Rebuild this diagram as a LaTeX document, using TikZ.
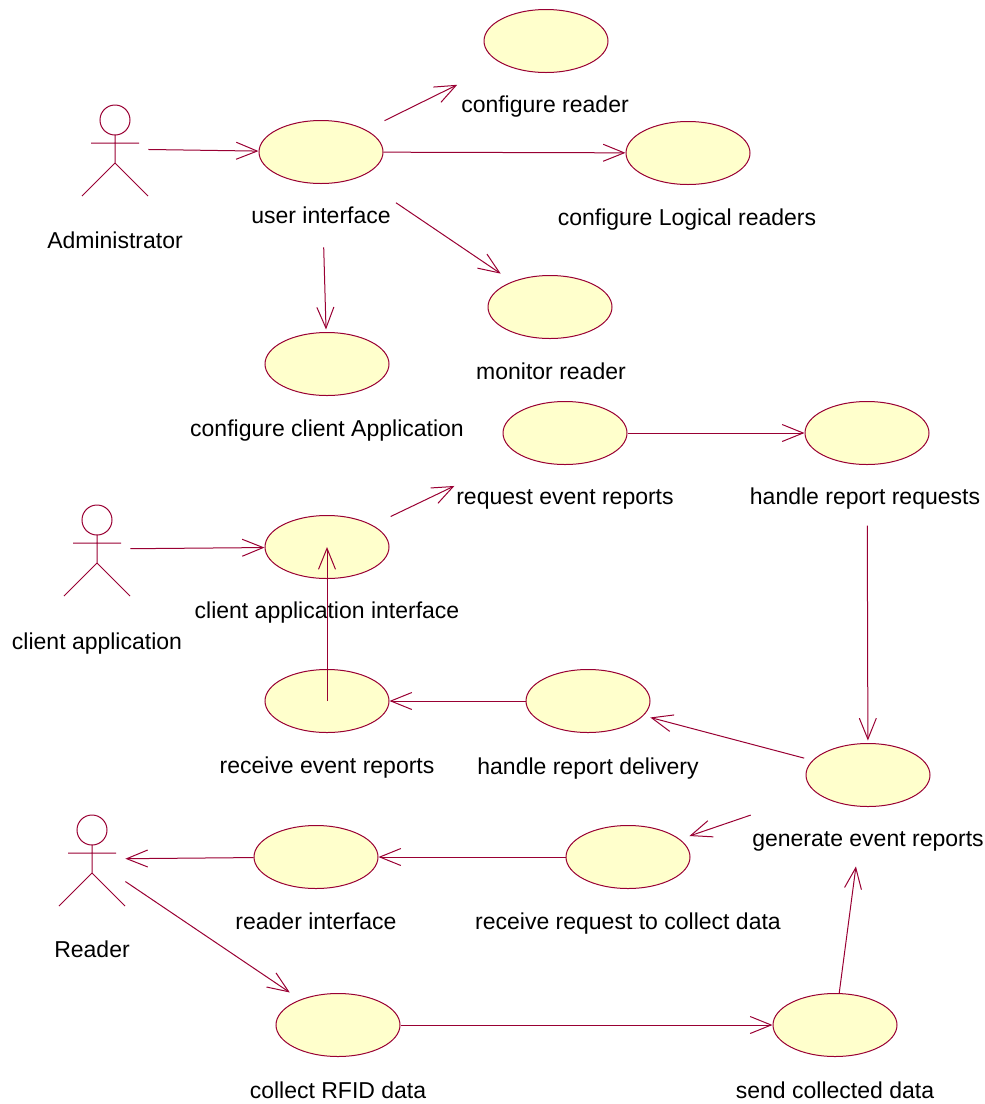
\documentclass[tikz,border=0pt]{standalone}
\usepackage{fontspec}
\setmainfont{Liberation Sans}
\usetikzlibrary{shapes.geometric,arrows.meta,positioning}
\definecolor{umlred}{RGB}{153,0,51}
\definecolor{ucfill}{RGB}{255,255,204}

\begin{document}
\begin{tikzpicture}[x=0.5pt, y=-0.5pt, font=\fontsize{11.5}{13}\selectfont]
        % Setup the styles for use cases, actors and texts
        \tikzset{uc style/.style={ellipse,
                                  draw=umlred,
                                  fill=ucfill,
                                  line width=0.5pt,
                                  inner sep=0pt,
                                  minimum width=62pt,
                                  minimum height=31.5pt},
                 actor style/.style={rectangle,
                                     inner sep=0pt,
                                     minimum width=33pt,
                                     minimum height=50pt},
                 txt style/.style={anchor=base, inner sep=0pt}}
        \useasboundingbox (0,0) rectangle (985,1104);

        % Draw the actors
        \node[actor style] at (115, 149) (admin)  {};
        \node[actor style] at (97, 549)  (capp)   {};
        \node[actor style] at (92, 859)  (reader) {};
        \foreach \a in {admin, capp, reader} {
            \draw[umlred, line width=0.5pt]
                ([shift={(0,-29)}]\a.center) circle[radius=7.5pt]
                ([shift={(-24,-6)}]\a.center) -- ([shift={(24,-6)}]\a.center)
                ([shift={(0,-14)}]\a.center) -- ([shift={(0,14)}]\a.center)
                ([shift={(-33,47)}]\a.center) -- ([shift={(0,14)}]\a.center)
                -- ([shift={(33,47)}]\a.center);
        }
        \node[txt style] at (115, 248) (adminlbl)  {Administrator};
        \node[txt style] at (97, 649)  (capplbl)   {client application};
        \node[txt style] at (92, 957)  (readerlbl) {Reader};

        % Draw the use cases
        \node[uc style] at (546, 41)   (cfgreader)   {};
        \node[uc style] at (321, 152)  (userif)      {};
        \node[uc style] at (688, 153)  (cfglogical)  {};
        \node[uc style] at (550, 307)  (monreader)   {};
        \node[uc style] at (327, 364)  (cfgclient)   {};
        \node[uc style] at (565, 433)  (reqreports)  {};
        \node[uc style] at (867, 433)  (handlereq)   {};
        \node[uc style] at (327, 547)  (clientif)    {};
        \node[uc style] at (327, 701)  (recvreports) {};
        \node[uc style] at (588, 701)  (handledeliv) {};
        \node[uc style] at (868, 775)  (genreports)  {};
        \node[uc style] at (628, 857)  (recvcollect) {};
        \node[uc style] at (316, 857)  (readerif)    {};
        \node[uc style] at (338, 1025) (collectrfid) {};
        \node[uc style] at (835, 1025) (sendcoll)    {};

        % Names of the use cases
        \node[txt style] at (545, 112)  (cfgreaderlbl)   {configure reader};
        \node[txt style] at (321, 223)  (useriflbl)      {user interface};
        \node[txt style] at (687, 225)  (cfglogicallbl)  {configure Logical readers};
        \node[txt style] at (551, 379)  (monreaderlbl)   {monitor reader};
        \node[txt style] at (327, 436)  (cfgclientlbl)   {configure client Application};
        \node[txt style] at (565, 504)  (reqreportslbl)  {request event reports};
        \node[txt style] at (865, 504)  (handlereqlbl)   {handle report requests};
        \node[txt style] at (327, 618)  (clientiflbl)    {client application interface};
        \node[txt style] at (327, 773)  (recvreportslbl) {receive event reports};
        \node[txt style] at (588, 774)  (handledelivlbl) {handle report delivery};
        \node[txt style] at (868, 846)  (genreportslbl)  {generate event reports};
        \node[txt style] at (628, 929)  (recvcollectlbl) {receive request to collect data};
        \node[txt style] at (316, 929)  (readeriflbl)    {reader interface};
        \node[txt style] at (338, 1098) (collectrfidlbl) {collect RFID data};
        \node[txt style] at (835, 1098) (sendcolllbl)    {send collected data};

        % Connect them with arrows
        \path[every edge/.append style={->,
                                        >={Straight Barb[length=10.5pt, width=8.5pt]},
                                        line width=0.5pt,
                                        draw=umlred}]
            (admin)       edge                                       (userif)
            (userif)      edge[shorten <=10.3pt, shorten >=24.4pt]   (cfgreader)
            (userif)      edge                                       (cfglogical)
            (userif)      edge[shorten <=22.5pt, shorten >=7pt]      (monreader)
            (userif)      edge[shorten <=31.75pt, shorten >=1.25pt]  (cfgclient)
            (capp)        edge                                       (clientif)
            (clientif)    edge[shorten <=10pt, shorten >=36pt]       (reqreports)
            (reqreports)  edge                                       (handlereq)
            (handlereq)   edge[shorten <=30.25pt, shorten >=1.25pt]  (genreports)
            (genreports)  edge[shorten <=4.3pt, shorten >=3.5pt]     (handledeliv)
            (handledeliv) edge                                       (recvreports)
            (recvreports.center) edge                                (clientif.center)
            (genreports)  edge[shorten <=34.5pt, shorten >=5pt]      (recvcollect)
            (recvcollect) edge                                       (readerif)
            (readerif)    edge                                       (reader)
            (reader)      edge[shorten >=6.3pt]                      (collectrfid)
            (collectrfid) edge                                       (sendcoll)
            (sendcoll)    edge[shorten >=30pt]                       (genreports);
\end{tikzpicture}
\end{document}
